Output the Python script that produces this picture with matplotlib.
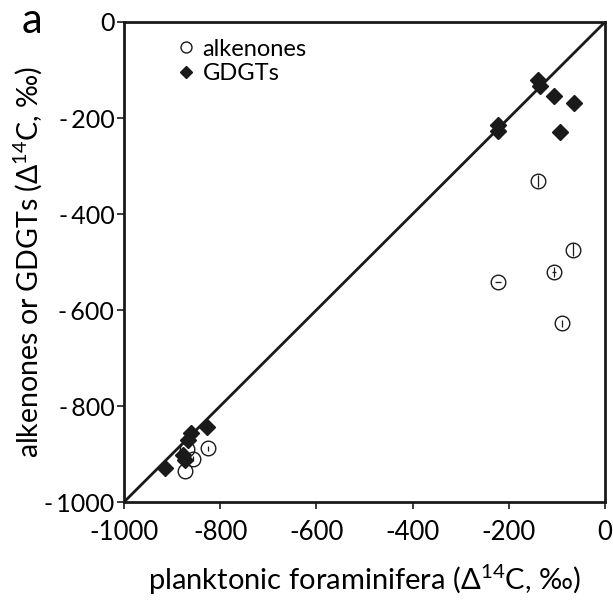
import numpy as np
import matplotlib
matplotlib.use('Agg')
from matplotlib import pyplot as plt

plt.rcParams['font.family'] = ['Lato', 'DejaVu Sans']
plt.rcParams['mathtext.fontset'] = 'custom'
plt.rcParams['mathtext.rm'] = 'Lato'

# alkenones vs planktonic foraminifera (Delta14C, permil)
alk_x = [-140, -222, -106, -67, -89, -825, -856, -870, -873]
alk_y = [-331, -542, -521, -474, -628, -888, -910, -890, -935]
alk_xerr = [0, 6, 5, 0, 0, 0, 0, 0, 0]
alk_yerr = [12, 0, 10, 13, 8, 5, 5, 0, 0]

# GDGTs vs planktonic foraminifera
gdgt_x = [-139, -135, -106, -64, -94, -222, -222, -828, -861, -866, -877, -873, -915]
gdgt_y = [-121, -133, -154, -169, -229, -215, -228, -843, -857, -871, -902, -912, -930]

xticks = [-1000, -800, -600, -400, -200, 0]
xticklabels = ['-1000', '-800', '-600', '-400', '-200', '0']
yticks = [0, -200, -400, -600, -800, -1000]
yticklabels = ['0', '-\u2009200', '-\u2009400', '-\u2009600', '-\u2009800', '-\u20091000']

fig = plt.figure(figsize=(6.13, 6.06), dpi=100)
ax = fig.add_axes([0.2023, 0.1716, 0.7847, 0.7921])

ax.plot([-1000, 0], [-1000, 0], color='#1a1a1a', linewidth=2.0, zorder=1)

ax.plot(gdgt_x, gdgt_y, linestyle='none', marker='D', markersize=8.5,
        color='#1a1a1a', markeredgecolor='#1a1a1a', zorder=3, label='GDGTs')
ax.errorbar(alk_x, alk_y, xerr=alk_xerr, yerr=alk_yerr, fmt='none',
            ecolor='#1a1a1a', elinewidth=0.9, capsize=0, zorder=4)
ax.plot(alk_x, alk_y, linestyle='none', marker='o', markersize=10.5,
        markerfacecolor='none', markeredgecolor='#1a1a1a',
        markeredgewidth=1.0, zorder=4, label='alkenones')

ax.set_xlim(-1000, 0)
ax.set_ylim(-1000, 0)
ax.set_xticks(xticks)
ax.set_xticklabels(xticklabels, fontsize=18.5)
ax.set_yticks(yticks)
ax.set_yticklabels(yticklabels, fontsize=18)
ax.tick_params(direction='out', length=5, width=1.2, color='#1a1a1a', pad=8)
ax.tick_params(axis='y', pad=2)
for s in ax.spines.values():
    s.set_linewidth(2.0)
    s.set_color('#1a1a1a')

ax.set_xlabel(r'planktonic foraminifera ($\Delta^{14}$C, ‰)', fontsize=21, labelpad=12)
ax.set_ylabel(r'alkenones or GDGTs ($\Delta^{14}$C, ‰)', fontsize=20.5)
ax.yaxis.set_label_coords(-0.165, 0.5)

# legend: alkenones first then GDGTs
h, l = ax.get_legend_handles_labels()
ax.legend([h[1], h[0]], [l[1], l[0]], loc='upper left', frameon=False,
          fontsize=17, handlelength=0.6, handletextpad=0.4, borderaxespad=0.3,
          labelspacing=0.15, markerscale=0.75, bbox_to_anchor=(0.08, 1.0))

fig.text(0.035, 0.945, 'a', fontsize=30)

plt.savefig('out.png', dpi=100)
